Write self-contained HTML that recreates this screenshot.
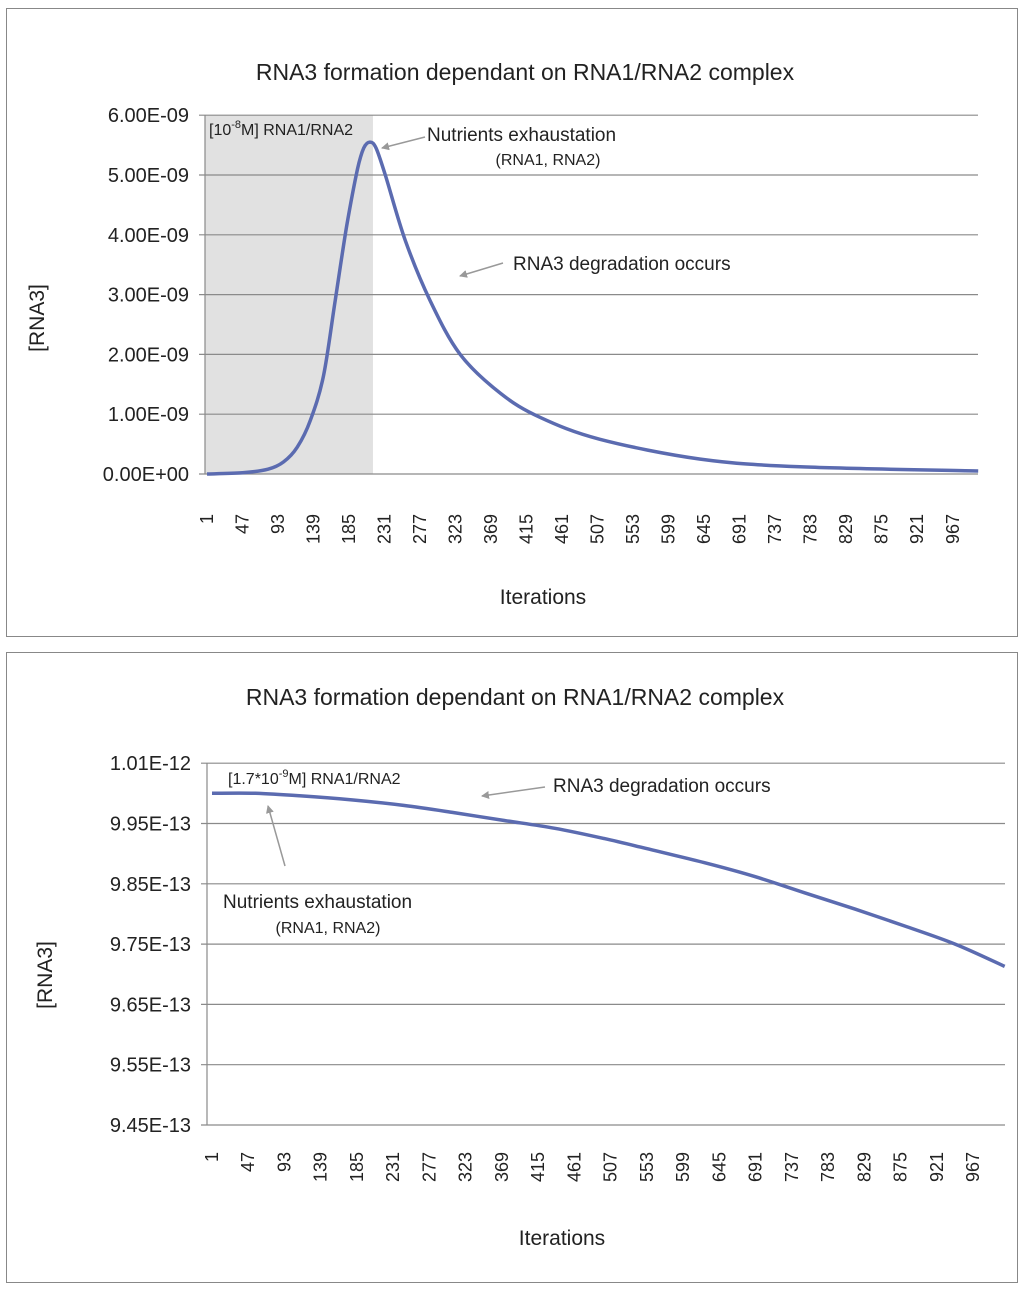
<!DOCTYPE html>
<html><head><meta charset="utf-8"><style>
body{margin:0;background:#fff;}
svg{display:block;font-family:"Liberation Sans",sans-serif;}
</style></head><body>
<svg id="s" width="1024" height="1290" viewBox="0 0 1024 1290">
<defs><marker id="ar" markerWidth="8" markerHeight="8" refX="7" refY="4" orient="auto" markerUnits="userSpaceOnUse"><path d="M0,0 L8,4 L0,8 z" fill="#999"/></marker></defs>
<rect x="6.5" y="8.5" width="1011" height="628" fill="#fff" stroke="#888"/>
<rect x="6.5" y="652.5" width="1011" height="630" fill="#fff" stroke="#888"/>
<g id="g1"></g><g id="g2"></g>
</svg>
<script>
const NS="http://www.w3.org/2000/svg";
function el(p,t,a,txt){const e=document.createElementNS(NS,t);for(const k in a)e.setAttribute(k,a[k]);if(txt!==undefined)e.textContent=txt;p.appendChild(e);return e;}

// ---- chart 1 data ----
const xTicks=[1,47,93,139,185,231,277,323,369,415,461,507,553,599,645,691,737,783,829,875,921,967];
const y1Ticks=["0.00E+00","1.00E-09","2.00E-09","3.00E-09","4.00E-09","5.00E-09","6.00E-09"];
const y1TickVals=[0,1,2,3,4,5,6];
const iter1=[1,47,80,100,118,135,152,167,182,196,204,212,220,232,258,290,329,381,432,510,640,769,1000];
const rna3a=[0.0,0.02,0.08,0.2,0.45,0.9,1.65,2.9,4.15,5.1,5.45,5.55,5.45,5.0,3.9,2.9,2.0,1.35,0.95,0.58,0.25,0.12,0.05];
// ---- chart 2 data ----
const y2Ticks=["9.45E-13","9.55E-13","9.65E-13","9.75E-13","9.85E-13","9.95E-13","1.01E-12"];
const y2TickVals=[9.45,9.55,9.65,9.75,9.85,9.95,10.05];
const iter2=[1,56,112,180,244,308,372,436,499,563,626,690,753,817,880,944,1007];
const rna3b=[10.0,10.0,9.996,9.989,9.98,9.968,9.955,9.942,9.925,9.905,9.885,9.862,9.835,9.808,9.78,9.75,9.713];

function spline(pts){
  let d='M'+pts[0][0].toFixed(1)+','+pts[0][1].toFixed(1);
  for(let i=0;i<pts.length-1;i++){
    const p0=pts[Math.max(0,i-1)],p1=pts[i],p2=pts[i+1],p3=pts[Math.min(pts.length-1,i+2)];
    const c1x=p1[0]+(p2[0]-p0[0])/6,c1y=p1[1]+(p2[1]-p0[1])/6;
    const c2x=p2[0]-(p3[0]-p1[0])/6,c2y=p2[1]-(p3[1]-p1[1])/6;
    d+=` C${c1x.toFixed(1)},${c1y.toFixed(1)} ${c2x.toFixed(1)},${c2y.toFixed(1)} ${p2[0].toFixed(1)},${p2[1].toFixed(1)}`;
  }
  return d;
}
function chart(g,o){
  const X=i=>o.x0+(i-1)*o.kx;
  const Y=v=>o.y0-(v-o.vmin)*o.ky;
  if(o.shade){const r=el(g,'rect',{x:o.px0,y:Y(6),width:X(o.shade)-o.px0,height:Y(0)-Y(6),fill:'#e1e1e1'});
    }
  o.yv.forEach((v,k)=>{
    const l=el(g,'line',{x1:o.px0-6,x2:o.px1,y1:Y(v),y2:Y(v),stroke:'#8a8a8a','stroke-width':1.2});
    
    const t=el(g,'text',{x:o.px0-16,y:Y(v)+7,'text-anchor':'end','font-size':20,fill:'#222'},o.yl[k]);
    
  });
  const ax=el(g,'line',{x1:o.px0,x2:o.px0,y1:Y(o.yv[o.yv.length-1]),y2:Y(o.yv[0]),stroke:'#8a8a8a','stroke-width':1.2});
  
  xTicks.forEach(v=>{
    const t=el(g,'text',{transform:`translate(${X(v)+6},${o.xly}) rotate(-90)`,'text-anchor':'end','font-size':18,fill:'#222'},v);
    
  });
  const pts=o.it.map((v,k)=>[X(v),Y(o.vals[k])]);
  const p=el(g,'path',{d:spline(pts),fill:'none',stroke:'#5b6bb0','stroke-width':3.5,'stroke-linejoin':'round'});
  
  const ti=el(g,'text',{x:o.tx,y:o.ty,'text-anchor':'middle','font-size':23,fill:'#222'},'RNA3 formation dependant on RNA1/RNA2 complex');
  
  const yt=el(g,'text',{transform:`translate(${o.ytx},${o.yty}) rotate(-90)`,'text-anchor':'middle','font-size':21,fill:'#222'},'[RNA3]');
  
  const xt=el(g,'text',{x:o.xtx,y:o.xty,'text-anchor':'middle','font-size':21,fill:'#222'},'Iterations');
  
}
const g1=document.getElementById('g1'),g2=document.getElementById('g2');
chart(g1,{x0:207,kx:0.772,y0:474,ky:59.8,vmin:0,px0:205,px1:978,yv:y1TickVals,yl:y1Ticks,xly:514,it:iter1,vals:rna3a,shade:216,tx:525,ty:80,ytx:44,yty:318,xtx:543,xty:604});
chart(g2,{x0:212,kx:0.788,y0:1125,ky:603,vmin:9.45,px0:207,px1:1005,yv:y2TickVals,yl:y2Ticks,xly:1152,it:iter2,vals:rna3b,tx:515,ty:705,ytx:52,yty:975,xtx:562,xty:1245});

function note(g,x,y,s,txt,name,anchor){const t=el(g,'text',{x:x,y:y,'font-size':s,fill:'#222','text-anchor':anchor||'start'},txt);
  return t;}
function arrow(g,x1,y1,x2,y2,name){const l=el(g,'line',{x1:x1,y1:y1,x2:x2,y2:y2,stroke:'#999','stroke-width':1.5,'marker-end':'url(#ar)'});
  }
// chart 1 annotations
const a1=el(g1,'text',{x:209,y:135,'font-size':16,fill:'#222'});
a1.innerHTML='[10<tspan dy="-7" font-size="11">-8</tspan><tspan dy="7">M] RNA1/RNA2</tspan>';
note(g1,427,141,19,'Nutrients exhaustation','nutrients-exhaustion-note');
note(g1,548,165,16,'(RNA1, RNA2)','nutrients-exhaustion-subnote','middle');
arrow(g1,425,137,382,148,'nutrients-exhaustion-arrow');
note(g1,513,270,19,'RNA3 degradation occurs','degradation-note');
arrow(g1,503,263,460,276,'degradation-arrow');
// chart 2 annotations
const a2=el(g2,'text',{x:228,y:784,'font-size':16,fill:'#222'});
a2.innerHTML='[1.7*10<tspan dy="-7" font-size="11">-9</tspan><tspan dy="7">M] RNA1/RNA2</tspan>';
note(g2,553,792,19,'RNA3 degradation occurs','degradation-note');
arrow(g2,545,787,482,796,'degradation-arrow');
note(g2,223,908,19,'Nutrients exhaustation','nutrients-exhaustion-note');
note(g2,328,933,16,'(RNA1, RNA2)','nutrients-exhaustion-subnote','middle');
arrow(g2,285,866,268,806,'nutrients-exhaustion-arrow');
</script>
</body></html>
